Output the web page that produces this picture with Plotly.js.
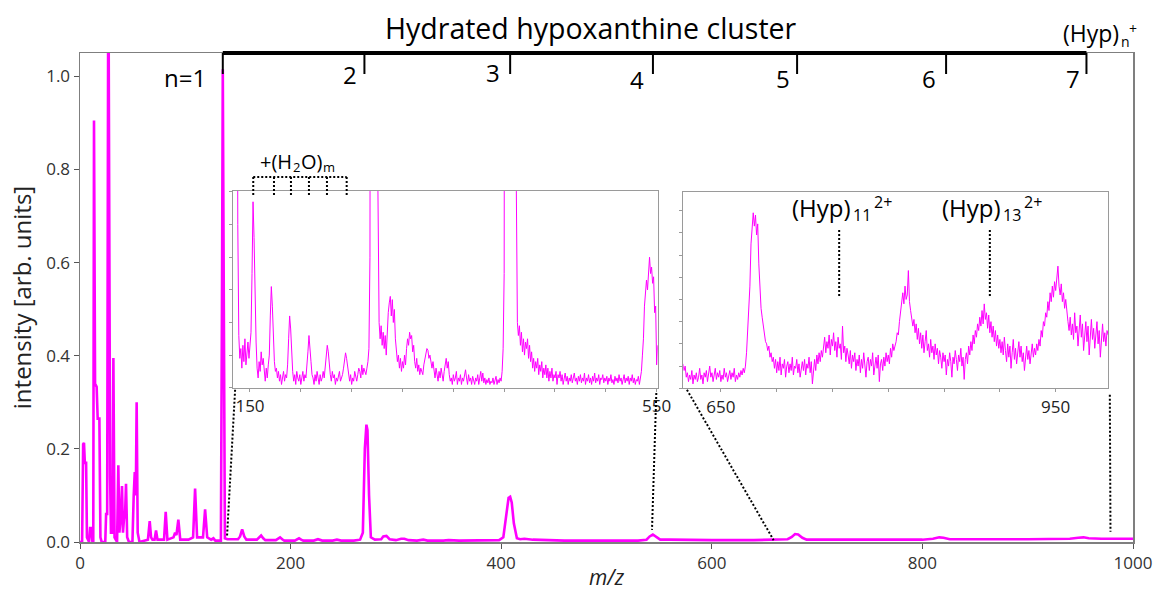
<!DOCTYPE html>
<html>
<head>
<meta charset="utf-8">
<script src="https://cdn.plot.ly/plotly-3.0.1.min.js"></script>
<style>html,body{margin:0;padding:0;background:#fff;}#chart{width:1157px;height:591px;}</style>
</head>
<body>
<div id="chart"></div>
<script>
// ---------- Main spectrum (m/z, normalised intensity) ----------
const mainMz = [
  0, 2.0, 3.0, 3.8, 4.6, 5.8, 6.6, 8.6, 9.6, 10.8, 11.8, 12.6, 13.3, 14.3, 15.8, 16.8, 18.4, 19.4, 20.6,
  24.0, 24.8, 25.8, 26.9, 27.9, 28.6, 29.4, 30.8, 31.7, 32.8, 35.2, 36.4, 37.4, 38.6, 39.9, 40.8, 41.8,
  42.8, 43.7, 44.8, 46.5, 49.8, 51.0, 52.0, 53.0, 53.8, 54.8, 56.5, 64.5, 66.2, 67.5, 68.8, 70.8, 72.2,
  73.6, 79.8, 81.4, 83.0, 88.8, 90.3, 91.6, 93.4, 95.2, 103.0, 107.4, 109.3, 111.2, 116.8, 118.8, 120.8,
  124.5, 126.7, 128.5, 133.8, 134.8, 135.6, 136.6, 137.6,
  140, 145, 150, 152, 154, 156, 158, 168, 170, 172, 174, 176, 186, 188, 190, 192, 194, 204, 206, 208,
  210, 212, 222, 226, 230, 240, 244, 248, 260, 266, 268.6, 270.5, 272.0, 273.0, 274.5, 276.2, 280, 286,
  288, 291, 294, 300, 305, 308, 312, 320, 326, 330, 345, 350, 360, 380, 398, 402, 405, 407, 408.5, 410,
  412, 414.9, 418, 422, 430, 440, 460, 500, 530, 538, 541, 544, 547, 551, 560, 580, 600, 640, 660, 672,
  676, 679, 682, 686, 690, 720, 750, 780, 800, 810, 816, 820, 826, 850, 870, 880, 900, 940, 948, 953,
  958, 970, 1000
];
const mainIntensity = [
  0, 0.0, 0.21, 0.213, 0.17, 0.17, 0.01, 0.0, 0.03, 0.03, 0.0, 0.0, 0.905, 0.34, 0.333, 0.265, 0.265, 0.01, 0.0,
  0.0, 0.06, 0.06, 1.3, 0.14, 0.14, 0.02, 0.02, 0.395, 0.01, 0.0, 0.165, 0.02, 0.05, 0.12, 0.02, 0.05,
  0.06, 0.125, 0.01, 0.0, 0.0, 0.1, 0.15, 0.1, 0.3, 0.02, 0.0, 0.005, 0.045, 0.01, 0.005, 0.005, 0.025,
  0.005, 0.005, 0.065, 0.005, 0.01, 0.02, 0.015, 0.048, 0.005, 0.005, 0.01, 0.115, 0.01, 0.01, 0.07, 0.01,
  0.005, 0.008, 0.003, 0.003, 0.5, 1.015, 0.5, 0.008,
  0.006, 0.006, 0.006, 0.012, 0.027, 0.012, 0.005, 0.005, 0.01, 0.014, 0.008, 0.004, 0.004, 0.007, 0.01, 0.006, 0.003, 0.003, 0.006, 0.008,
  0.005, 0.003, 0.003, 0.006, 0.003, 0.003, 0.005, 0.003, 0.003, 0.005, 0.02, 0.2, 0.252, 0.24, 0.1, 0.01, 0.005, 0.006,
  0.012, 0.013, 0.006, 0.004, 0.007, 0.007, 0.004, 0.003, 0.005, 0.003, 0.003, 0.004, 0.003, 0.003, 0.004, 0.01, 0.06, 0.095, 0.097, 0.085,
  0.04, 0.008, 0.006, 0.007, 0.005, 0.004, 0.003, 0.003, 0.003, 0.005, 0.012, 0.016, 0.012, 0.005, 0.005, 0.004, 0.004, 0.004, 0.005, 0.006,
  0.011, 0.017, 0.016, 0.009, 0.005, 0.005, 0.006, 0.005, 0.005, 0.007, 0.01, 0.009, 0.006, 0.006, 0.007, 0.006, 0.006, 0.007, 0.009, 0.010,
  0.008, 0.007, 0.007
];

// ---------- Inset 1: m/z 134 ... 551, one value per m/z unit (arb. units) ----------
const inset1StartMz = 134;
const inset1StepMz = 1;
const inset1Values = [
  30, 30, 30, 20, 5, 1.6,                               // 134-139
  0.9, 1.2, 0.6, 1.3, 0.8, 1.5, 0.7, 1.1, 1.4, 0.9,     // 140
  1.3, 1.7, 3.5, 5.7, 4.6, 2.8, 1.4, 0.6, 0.3, 0.8,     // 150
  0.5, 1.1, 0.7, 0.9, 0.4, 0.2, 0.6, 0.3, 0.7, 1.0,     // 160
  2.2, 3.1, 2.5, 1.4, 0.8, 0.5, 0.6, 0.3, 0.5, 0.2,     // 170
  0.4, 0.1, 0.3, 0.5, 0.2, 0.4, 0.3, 0.7, 1.5, 2.2,     // 180
  1.8, 1.0, 0.5, 0.2, 0.4, 0.1, 0.5, 0.3, 0.2, 0.4,     // 190
  0.1, 0.3, 0.5, 0.2, 0.4, 0.3, 0.6, 1.1, 1.6, 1.3,     // 200
  0.8, 0.4, 0.3, 0.1, 0.4, 0.2, 0.5, 0.3, 0.1, 0.4,     // 210
  0.2, 0.3, 0.5, 0.3, 0.7, 1.0, 1.3, 1.1, 0.7, 0.4,     // 220
  0.2, 0.5, 0.3, 0.4, 0.1, 0.3, 0.2, 0.4, 0.5, 0.2,     // 230
  0.3, 0.4, 0.6, 0.9, 1.07, 0.9, 0.6, 0.3, 0.2, 0.4,    // 240
  0.1, 0.3, 0.2, 0.5, 0.3, 0.2, 0.4, 0.6, 0.5, 0.3,     // 250
  0.7, 0.4, 0.6, 0.5, 0.4, 0.6, 0.8, 1.2, 4.0, 30,      // 260
  30, 30, 30, 30, 30, 30, 5, 2.0, 1.5, 1.9,             // 270
  1.3, 1.7, 1.2, 1.6, 1.0, 1.8, 2.3, 2.6, 2.8, 2.2,     // 280
  2.7, 2.0, 2.4, 1.5, 1.1, 0.8, 1.0, 0.6, 0.9, 0.5,     // 290
  0.8, 0.6, 1.0, 0.7, 1.2, 1.5, 1.3, 1.7, 1.5, 1.6,     // 300
  1.1, 1.3, 0.8, 0.6, 0.9, 0.5, 0.7, 0.4, 0.6, 0.5,     // 310
  0.4, 0.7, 0.9, 1.0, 1.2, 1.15, 0.9, 1.0, 0.7, 0.6,    // 320
  0.8, 0.5, 0.3, 0.6, 0.4, 0.2, 0.5, 0.3, 0.6, 0.4,     // 330
  0.2, 0.5, 0.7, 0.9, 0.6, 0.8, 0.4, 0.2, 0.3, 0.1,     // 340
  0.4, 0.2, 0.3, 0.5, 0.1, 0.3, 0.2, 0.4, 0.1, 0.3,     // 350
  0.2, 0.4, 0.55, 0.3, 0.1, 0.4, 0.2, 0.3, 0.1, 0.35,   // 360
  0.2, 0.1, 0.3, 0.2, 0.4, 0.1, 0.3, 0.5, 0.2, 0.45,    // 370
  0.15, 0.3, 0.1, 0.25, 0.15, 0.3, 0.1, 0.2, 0.15, 0.3, // 380
  0.1, 0.2, 0.35, 0.1, 0.25, 0.15, 0.3, 0.2, 0.5, 1.2,  // 390
  3.5, 30, 30, 30, 30, 30, 30, 30, 30, 30,              // 400
  30, 30, 6, 2.0, 1.6, 1.9, 1.3, 1.7, 1.1, 1.5,         // 410
  1.0, 1.4, 1.2, 1.5, 0.9, 1.3, 0.8, 1.1, 0.6, 0.9,     // 420
  0.5, 0.8, 0.6, 0.9, 0.4, 0.7, 0.5, 0.8, 0.3, 0.6,     // 430
  0.4, 0.7, 0.3, 0.6, 0.2, 0.5, 0.3, 0.6, 0.2, 0.4,     // 440
  0.3, 0.5, 0.1, 0.4, 0.3, 0.5, 0.2, 0.4, 0.1, 0.3,     // 450
  0.45, 0.2, 0.35, 0.1, 0.3, 0.2, 0.4, 0.15, 0.3, 0.45, // 460
  0.2, 0.3, 0.1, 0.35, 0.2, 0.4, 0.15, 0.3, 0.2, 0.45,  // 470
  0.1, 0.3, 0.2, 0.4, 0.15, 0.3, 0.1, 0.35, 0.2, 0.45,  // 480
  0.15, 0.3, 0.2, 0.4, 0.1, 0.3, 0.25, 0.4, 0.15, 0.3,  // 490
  0.2, 0.35, 0.1, 0.3, 0.2, 0.4, 0.15, 0.25, 0.1, 0.35, // 500
  0.2, 0.3, 0.15, 0.4, 0.2, 0.3, 0.1, 0.25, 0.4, 0.15,  // 510
  0.3, 0.2, 0.35, 0.1, 0.3, 0.2, 0.4, 0.15, 0.3, 0.1,   // 520
  0.25, 0.2, 0.35, 0.1, 0.3, 0.5, 1.0, 1.5, 2.5, 3.0,   // 530
  3.3, 3.0, 3.6, 4.0, 3.5, 3.7, 3.2, 3.4, 2.3, 2.5,     // 540
  0.7, 1.3                                              // 550-551
];

// ---------- Inset 2: m/z 616 ... 997, one value per m/z unit (arb. units) ----------
const inset2StartMz = 616;
const inset2StepMz = 1;
const inset2Values = [
  1.1, 0.8, 1.0, 0.5,                                   // 616-619
  0.7, 0.3, 0.6, 0.4, 0.8, 0.2, 0.6, 0.4, 0.7, 0.3,     // 620
  0.5, 0.9, 0.4, 0.6, 0.2, 0.7, 0.5, 0.8, 0.3, 0.6,     // 630
  1.0, 0.5, 0.7, 0.3, 0.6, 0.9, 0.4, 0.7, 0.5, 0.8,     // 640
  0.3, 0.6, 0.4, 0.9, 0.5, 0.7, 0.3, 0.6, 0.8, 0.4,     // 650
  0.7, 0.5, 0.9, 0.3, 0.6, 0.4, 0.7, 0.5, 0.8, 0.6,     // 660
  0.9, 0.7, 1.0, 1.6, 2.6, 3.8, 4.6, 6.5, 7.1, 7.9,     // 670
  7.3, 7.8, 6.9, 7.4, 5.6, 4.3, 3.6, 3.2, 2.8, 2.4,     // 680
  2.1, 2.0, 1.7, 1.9, 1.4, 1.6, 1.2, 1.4, 0.9, 1.3,     // 690
  0.7, 1.2, 0.8, 1.4, 0.6, 1.1, 0.9, 1.3, 0.5, 1.0,     // 700
  1.2, 0.7, 1.1, 0.8, 1.4, 0.6, 1.0, 0.9, 1.3, 0.7,     // 710
  1.1, 0.5, 1.0, 1.2, 0.8, 1.3, 0.6, 1.1, 0.9, 1.4,     // 720
  0.7, 1.2, 0.2, 1.0, 1.3, 0.8, 1.5, 1.1, 1.6, 1.2,     // 730
  1.7, 1.4, 1.9, 2.3, 1.6, 2.1, 1.8, 2.4, 1.5, 2.2,     // 740
  1.9, 2.5, 1.7, 2.1, 1.4, 2.3, 1.8, 2.0, 1.3, 2.8,     // 750
  1.6, 1.9, 1.2, 1.8, 1.5, 1.1, 1.7, 0.9, 1.5, 1.2,     // 760
  1.6, 0.8, 1.3, 1.0, 1.5, 0.7, 1.3, 0.9, 1.6, 1.1,     // 770
  0.5, 1.2, 1.4, 0.8, 1.3, 1.0, 1.6, 0.6, 1.2, 1.4,     // 780
  0.9, 1.5, 0.3, 1.1, 1.3, 0.8, 1.4, 1.0, 1.6, 1.2,     // 790
  1.5, 1.1, 1.8, 1.4, 2.0, 1.7, 1.9, 2.1, 2.5, 2.4,     // 800
  3.0, 3.4, 3.9, 4.3, 3.8, 4.6, 4.0, 4.2, 5.3, 3.9,     // 810
  3.5, 3.2, 2.8, 3.1, 2.5, 2.9, 2.2, 2.7, 2.0, 2.5,     // 820
  1.8, 2.4, 1.6, 2.1, 2.6, 1.7, 2.0, 1.4, 2.2, 1.6,     // 830
  1.9, 1.3, 2.0, 1.5, 1.8, 1.1, 1.7, 1.4, 0.9, 1.6,     // 840
  1.2, 1.5, 0.6, 1.3, 1.0, 1.6, 1.2, 0.5, 1.4, 1.1,     // 850
  1.7, 1.3, 0.8, 1.5, 1.2, 1.8, 1.0, 1.4, 0.4, 1.3,     // 860
  1.6, 1.1, 1.9, 1.5, 2.1, 1.7, 2.4, 2.0, 2.6, 2.3,     // 870
  2.9, 2.6, 3.2, 2.8, 3.5, 2.9, 3.8, 3.1, 3.4, 2.7,     // 880
  3.3, 2.5, 3.0, 2.3, 2.8, 2.1, 2.6, 1.9, 2.4, 1.8,     // 890
  2.2, 1.6, 2.1, 1.5, 2.3, 1.7, 1.2, 2.0, 1.4, 1.9,     // 900
  0.9, 1.6, 2.2, 1.3, 1.8, 1.1, 1.7, 2.1, 1.4, 1.9,     // 910
  1.2, 1.6, 0.8, 1.5, 1.9, 1.3, 1.7, 1.1, 1.6, 2.0,     // 920
  1.4, 1.8, 1.5, 2.0, 1.7, 2.2, 1.9, 2.6, 2.3, 3.0,     // 930
  2.8, 3.4, 3.2, 3.9, 3.5, 4.3, 3.9, 4.6, 4.1, 4.8,     // 940
  4.4, 5.1, 5.5, 4.6, 4.2, 4.7, 3.9, 4.3, 3.6, 4.0,     // 950
  3.3, 3.0, 2.6, 3.2, 2.4, 2.9, 2.2, 3.4, 2.5, 2.8,     // 960
  1.9, 2.7, 3.3, 2.3, 2.9, 1.7, 2.6, 3.0, 2.1, 2.8,     // 970
  1.5, 2.4, 3.1, 2.2, 2.7, 1.8, 2.5, 3.0, 2.0, 2.6,     // 980
  1.4, 2.3, 2.9, 2.1, 2.5, 1.9, 2.6, 2.4                // 990-997
];

// ---------- Labels / tick values ----------
const clusterLabels = ['n=1', '2', '3', '4', '5', '6', '7'];
const clusterMz = [135.6, 270.1, 408.5, 544.1, 681, 822.5, 955.8];
const clusterLabelMz = [99.8, 256.5, 392.4, 528.7, 667.4, 806.2, 942.9];
const clusterLabelY = [0.949, 0.957, 0.961, 0.945, 0.947, 0.948, 0.947];
const waterMz = [153.2, 173.6, 190.3, 208.0, 225.7, 245.1];
const mainXTicks = [0, 200, 400, 600, 800, 1000];
const mainYTicks = [0.0, 0.2, 0.4, 0.6, 0.8, 1.0];
const inset1LabelTicks = [150, 550];
const inset1MinorStep = 50;
const inset2LabelTicks = [650, 950];
const inset2MinorStep = 50;
const insetYMinorStep = 1;
const dicationMz = [756, 891];
const dicationBase = '(Hyp)';
const dicationSub = ['11', '13'];
const dicationSup = '2+';
const dicationJoinMz = [767.2, 901.9];

// ---------- Build ----------
const inset1Mz = inset1Values.map((v, i) => inset1StartMz + i * inset1StepMz);
const inset2Mz = inset2Values.map((v, i) => inset2StartMz + i * inset2StepMz);

const MAGENTA = '#ff00ff';
const FONT = 'Open Sans, sans-serif';

const traces = [
  { x: mainMz, y: mainIntensity, type: 'scatter', mode: 'lines', xaxis: 'x', yaxis: 'y',
    line: { color: MAGENTA, width: 2.6 }, hoverinfo: 'skip' },
  { x: inset1Mz, y: inset1Values, type: 'scatter', mode: 'lines', xaxis: 'x2', yaxis: 'y2',
    line: { color: MAGENTA, width: 1 }, hoverinfo: 'skip' },
  { x: inset2Mz, y: inset2Values, type: 'scatter', mode: 'lines', xaxis: 'x3', yaxis: 'y3',
    line: { color: MAGENTA, width: 1 }, hoverinfo: 'skip' }
];

const insetAxis = {
  showline: true, mirror: true, linecolor: '#9a9a9a', linewidth: 1,
  ticks: 'outside', ticklen: 3, tickcolor: '#9a9a9a', showgrid: false, zeroline: false
};
const insetYAxis = {
  showline: true, mirror: true, linecolor: '#9a9a9a', linewidth: 1,
  tickmode: 'array', tickvals: [], ticks: '', showticklabels: false, showgrid: false, zeroline: false,
  minor: { tickmode: 'linear', tick0: 0, dtick: insetYMinorStep, ticks: 'outside', ticklen: 3, tickcolor: '#9a9a9a', showgrid: false }
};

const shapes = [];
shapes.push({ type: 'rect', xref: 'paper', yref: 'paper', x0: 0.1456, x1: 0.5486, y0: 0.3155, y1: 0.7178,
  fillcolor: '#fff', line: { width: 0 }, layer: 'below' });
shapes.push({ type: 'rect', xref: 'paper', yref: 'paper', x0: 0.5729, x1: 0.9765, y0: 0.3143, y1: 0.7164,
  fillcolor: '#fff', line: { width: 0 }, layer: 'below' });
shapes.push({ type: 'line', xref: 'x', yref: 'paper', x0: clusterMz[0], x1: clusterMz[clusterMz.length - 1],
  y0: 1.0, y1: 1.0, line: { color: '#000', width: 4 } });
clusterMz.forEach(m => shapes.push({ type: 'line', xref: 'x', yref: 'paper', x0: m, x1: m, y0: 1.0, y1: 0.957,
  line: { color: '#000', width: 2 } }));
const dotted = { color: '#000', width: 2, dash: '2px,2px' };
[[147.3, 0.327, 139.6, 0.011], [547.3, 0.320, 543.2, 0.026], [576.4, 0.327, 658.7, 0.004], [978.0, 0.316, 978.6, 0.022]]
  .forEach(s => shapes.push({ type: 'line', xref: 'x', yref: 'y', x0: s[0], y0: s[1], x1: s[2], y1: s[3], line: dotted }));
shapes.push({ type: 'line', xref: 'x2', yref: 'paper', x0: waterMz[0], x1: waterMz[waterMz.length - 1],
  y0: 0.7464, y1: 0.7464, line: dotted });
waterMz.forEach(m => shapes.push({ type: 'line', xref: 'x2', yref: 'paper', x0: m, x1: m, y0: 0.7464, y1: 0.7076, line: dotted }));
dicationMz.forEach(m => shapes.push({ type: 'line', xref: 'x3', yref: 'y3', x0: m, x1: m, y0: 4.16, y1: 7.13, line: dotted }));

// text piece helper (sub/superscripts drawn as separate small texts)
function piece(text, xref, yref, x, y, anchor, size, xshift, yshift) {
  return { text: text, xref: xref, yref: yref, x: x, y: y, xanchor: anchor, yanchor: 'middle',
    xshift: xshift || 0, yshift: yshift || 0, borderpad: 0, showarrow: false,
    font: { family: FONT, size: size, color: '#000' } };
}

const annotations = [];
annotations.push(piece('Hydrated hypoxanthine cluster', 'paper', 'paper', 0.4853, 1.051, 'center', 28.5));
// (Hyp)n+
annotations.push(piece('(Hyp)', 'paper', 'paper', 0.9877, 1.0403, 'right', 23));
annotations.push(piece('n', 'paper', 'paper', 0.9877, 1.0403, 'left', 14, 0, -8));
annotations.push(piece('+', 'paper', 'paper', 0.9877, 1.0403, 'left', 14, 7.5, 5));
clusterLabels.forEach((t, i) => annotations.push(piece(t, 'x', 'paper', clusterLabelMz[i], clusterLabelY[i], 'center', 24)));
// +(H2O)m
annotations.push(piece('+(H', 'paper', 'paper', 0.2026, 0.7791, 'right', 20));
annotations.push(piece('2', 'paper', 'paper', 0.2026, 0.7791, 'left', 13, -1.5, -6));
annotations.push(piece('O)', 'paper', 'paper', 0.2085, 0.7791, 'left', 20));
annotations.push(piece('m', 'paper', 'paper', 0.2085, 0.7791, 'left', 13, 22, -5.5));
// (Hyp)11 2+ and (Hyp)13 2+
dicationJoinMz.forEach((x, i) => {
  annotations.push(piece(dicationBase, 'x3', 'y3', x, 8.12, 'right', 24));
  annotations.push(piece(dicationSub[i], 'x3', 'y3', x, 8.12, 'left', 16, 0, -7));
  annotations.push(piece(dicationSup, 'x3', 'y3', x, 8.12, 'left', 16, 21, 6));
});

const layout = {
  width: 1157, height: 591,
  margin: { l: 80, r: 24, t: 53, b: 49, pad: 0 },
  paper_bgcolor: '#fff', plot_bgcolor: '#fff',
  showlegend: false,
  font: { family: FONT, color: '#333' },
  xaxis: {
    domain: [0, 1], range: [0, 1000], tickvals: mainXTicks, ticks: 'outside', ticklen: 5, tickcolor: '#555',
    showline: true, mirror: true, linecolor: '#7f7f7f', linewidth: 1.5, showgrid: false, zeroline: false,
    tickfont: { family: FONT, size: 17, color: '#333' },
    title: { text: '<i>m/z</i>', font: { family: FONT, size: 21, color: '#222' }, standoff: 4 }
  },
  yaxis: {
    domain: [0, 1], range: [0, 1.05], tickvals: mainYTicks, tickformat: '.1f', ticks: 'outside', ticklen: 5, tickcolor: '#555',
    showline: true, mirror: true, linecolor: '#7f7f7f', linewidth: 1.5, showgrid: false, zeroline: false,
    tickfont: { family: FONT, size: 17, color: '#333' },
    title: { text: 'intensity [arb. units]', font: { family: FONT, size: 24, color: '#222' }, standoff: 8 }
  },
  xaxis2: Object.assign({}, insetAxis, { domain: [0.1456, 0.5486], range: [133.6, 551], anchor: 'y2',
    tickvals: inset1LabelTicks,
    minor: { dtick: inset1MinorStep, tick0: 0, ticks: 'outside', ticklen: 3, tickcolor: '#9a9a9a', showgrid: false },
    tickfont: { family: FONT, size: 17, color: '#222' } }),
  yaxis2: Object.assign({}, insetYAxis, { domain: [0.3155, 0.7178], range: [0, 6.03], anchor: 'x2' }),
  xaxis3: Object.assign({}, insetAxis, { domain: [0.5729, 0.9765], range: [616.3, 997.1], anchor: 'y3',
    tickvals: inset2LabelTicks,
    minor: { dtick: inset2MinorStep, tick0: 0, ticks: 'outside', ticklen: 3, tickcolor: '#9a9a9a', showgrid: false },
    tickfont: { family: FONT, size: 17, color: '#222' } }),
  yaxis3: Object.assign({}, insetYAxis, { domain: [0.3143, 0.7164], range: [0, 8.85], anchor: 'x3' }),
  shapes: shapes,
  annotations: annotations
};

Plotly.newPlot('chart', traces, layout, { staticPlot: true, displayModeBar: false });
</script>
</body>
</html>
